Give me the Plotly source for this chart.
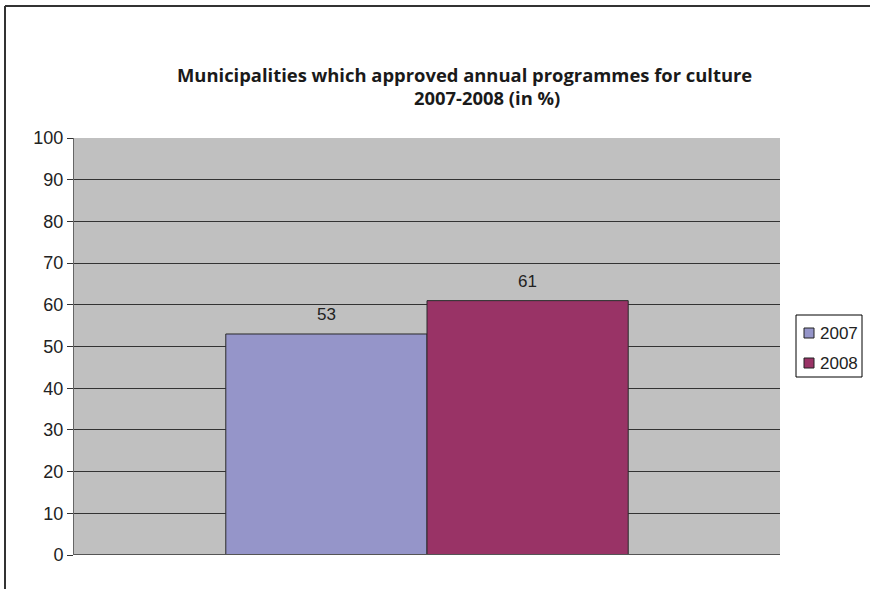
import plotly.graph_objects as go

# Share of municipalities with an approved annual culture programme
years = ["2007", "2008"]
shares = [53, 61]
colors = ["#9595C9", "#993366"]
y_ticks = [0, 10, 20, 30, 40, 50, 60, 70, 80, 90, 100]

LABEL_FONT = "Liberation Sans, Arial"
BAR_GAP = 0.43

fig = go.Figure()
for yr, val, col in zip(years, shares, colors):
    fig.add_trace(go.Bar(
        x=[""], y=[val], name=yr, showlegend=False,
        marker=dict(color=col, line=dict(color="#2a2a2a", width=1)),
    ))

# value label above the centre of each grouped bar
bar_w = (1 - BAR_GAP) / len(years)
value_labels = []
for i, val in enumerate(shares):
    xc = -(1 - BAR_GAP) / 2 + bar_w * (i + 0.5)
    value_labels.append(dict(
        x=xc, y=val, xref="x", yref="y", yanchor="middle",
        text=str(val), showarrow=False, yshift=19,
        font=dict(family=LABEL_FONT, size=17, color="#222222"),
    ))

# compact legend box to the right of the plot area (paper coordinates)
PX_W, PX_H, L, B = 706, 417, 74, 34


def px(x):
    return (x - L) / PX_W


def py(y):
    return (589 - B - y) / PX_H


title_lines = [
    dict(text="<b>Municipalities which approved annual programmes for culture</b>",
         x=px(465), y=py(74.5), xref="paper", yref="paper", yanchor="middle",
         height=23, borderpad=0, showarrow=False,
         font=dict(family="Open Sans", size=18.4, color="#1a1a1a")),
    dict(text="<b>2007-2008 (in %)</b>",
         x=px(487), y=py(98), xref="paper", yref="paper", yanchor="middle",
         height=23, borderpad=0, showarrow=False,
         font=dict(family="Open Sans", size=18.4, color="#1a1a1a")),
]

shapes = [
    dict(type="rect", xref="paper", yref="paper",
         x0=px(796), x1=px(862), y0=py(315), y1=py(377),
         line=dict(color="#000000", width=1), fillcolor="white"),
]
legend_texts = []
for i, (yr, col) in enumerate(zip(years, colors)):
    cy = 333 + 30 * i
    shapes.append(dict(type="rect", xref="paper", yref="paper",
                       x0=px(804), x1=px(814), y0=py(cy - 5), y1=py(cy + 5),
                       line=dict(color="#222222", width=1), fillcolor=col))
    legend_texts.append(dict(text=yr, x=px(818), y=py(cy), xref="paper", yref="paper",
                             xanchor="left", yanchor="middle", showarrow=False,
                             font=dict(family=LABEL_FONT, size=17, color="#222222")))

# frame around the chart area (left and top edges)
shapes.append(dict(type="line", xref="paper", yref="paper",
                   x0=px(5), y0=py(6), x1=px(5), y1=py(600),
                   line=dict(color="#333333", width=2)))
shapes.append(dict(type="line", xref="paper", yref="paper",
                   x0=px(5), y0=py(6), x1=px(900), y1=py(6),
                   line=dict(color="#333333", width=2)))
# baseline
shapes.append(dict(type="line", xref="paper", yref="y",
                   x0=0, y0=0, x1=1, y1=0, line=dict(color="#555555", width=2)))

fig.update_layout(
    width=870, height=589,
    margin=dict(l=L, r=90, t=138, b=B, autoexpand=False),
    paper_bgcolor="white",
    plot_bgcolor="#C0C0C0",
    barmode="group",
    bargap=BAR_GAP,
    bargroupgap=0,
    showlegend=False,
    xaxis=dict(showticklabels=False, showline=False, ticks="", range=[-0.5, 0.5]),
    yaxis=dict(
        range=[0, 100], tickvals=y_ticks, ticks="outside", ticklen=6,
        tickcolor="#333333", showgrid=True, gridcolor="#333333", gridwidth=1,
        showline=True, linecolor="#666666", linewidth=1, zeroline=False,
        tickfont=dict(family=LABEL_FONT, size=18, color="#222222"),
    ),
    annotations=value_labels + title_lines + legend_texts,
    shapes=shapes,
)

fig.write_html("out.html")
